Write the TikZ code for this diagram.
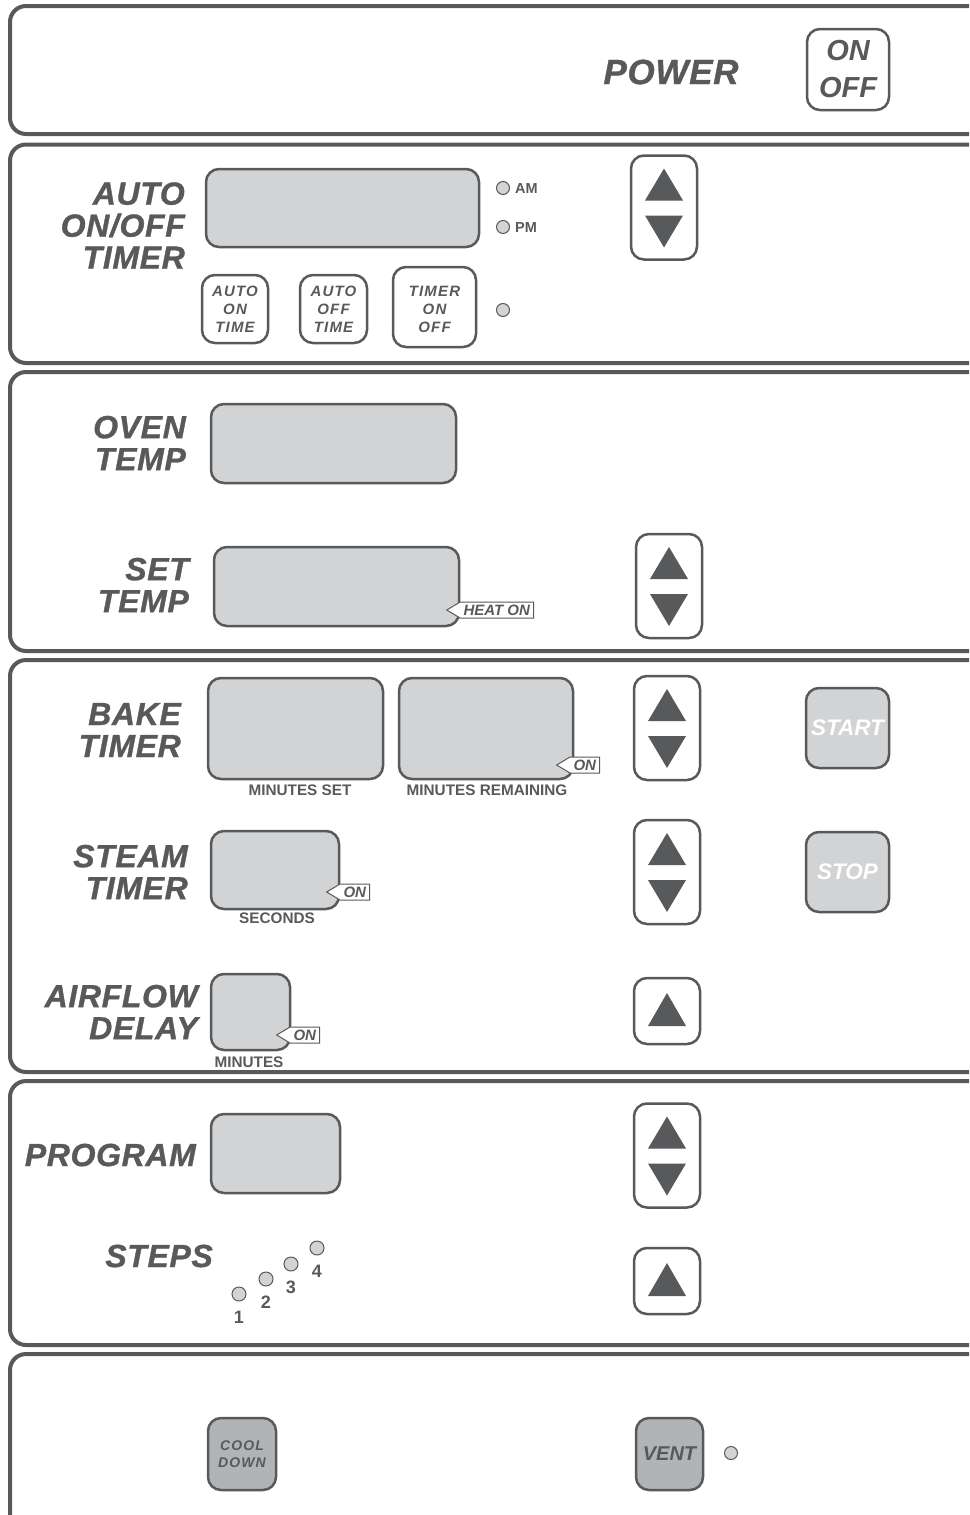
\documentclass[tikz,border=0pt]{standalone}
\usepackage{fontspec}
\setmainfont{Liberation Sans}
\newfontfamily\labfont[LetterSpace=2, BoldItalicFeatures={FakeBold=1}]{Liberation Sans}
\newfontfamily\keyfont[LetterSpace=8]{Liberation Sans}
\usetikzlibrary{shapes.symbols, positioning}

\definecolor{dgray}{HTML}{58595B}
\definecolor{lcdgray}{HTML}{D1D3D4}
\definecolor{keygray}{HTML}{B1B3B6}

\tikzset{
    panel/.style={draw=dgray, line width=4pt, rounded corners=16pt},
    lcd/.style={draw=dgray, fill=lcdgray, line width=2.5pt, rounded corners=13pt, inner sep=0},
    key/.style={draw=dgray, fill=white, line width=2.5pt, rounded corners=13pt, inner sep=0, text=dgray, align=center},
    keytext/.style={text=dgray, align=center, inner sep=0, font=\keyfont\bfseries\itshape\fontsize{15}{18}\selectfont},
    panellabel/.style={font=\labfont\bfseries\itshape\fontsize{32}{32}\selectfont, text=dgray, align=right, anchor=east, inner sep=0},
    smalltag/.style={font=\bfseries\fontsize{15.3}{16}\selectfont, text=dgray, inner sep=0},
    led/.style={circle, draw=dgray, fill=lcdgray, line width=1pt, minimum size=13, inner sep=0},
    flag/.style={signal, signal to=west, signal pointer angle=62, draw=dgray, fill=white, line width=1pt,
        minimum height=16, inner xsep=3.5, inner ysep=0, text=dgray, font=\bfseries\itshape\fontsize{15}{15}\selectfont}
}

% up/down key: name, x, y
\newcommand{\updown}[3]{%
    \node[key, minimum width=66, minimum height=104] (#1) at (#2,#3) {};
    \fill[dgray] ([shift={(0,-39)}]#1.center) -- ([shift={(19,-7)}]#1.center) -- ([shift={(-19,-7)}]#1.center) -- cycle;
    \fill[dgray] ([shift={(0,40)}]#1.center) -- ([shift={(19,8)}]#1.center) -- ([shift={(-19,8)}]#1.center) -- cycle;
}
% up key: name, x, y
\newcommand{\upkey}[3]{%
    \node[key, minimum width=66, minimum height=66] (#1) at (#2,#3) {};
    \fill[dgray] ([shift={(0,-18)}]#1.center) -- ([shift={(19,15)}]#1.center) -- ([shift={(-19,15)}]#1.center) -- cycle;
}

\begin{document}
\begin{tikzpicture}[x=1pt, y=-1pt]
    \useasboundingbox (0,0) rectangle (969,1515);
    \clip (0,0) rectangle (969,1515);

    % panels
    \draw[panel] (10,6) rectangle (1000,134);
    \draw[panel] (10,144.5) rectangle (1000,363);
    \draw[panel] (10,372) rectangle (1000,651);
    \draw[panel] (10,660) rectangle (1000,1072);
    \draw[panel] (10,1081) rectangle (1000,1345);
    \draw[panel] (10,1354) rectangle (1000,1560);

    % power
    \node[panellabel, anchor=center, font=\labfont\bfseries\itshape\fontsize{35}{35}\selectfont] (power) at (671,72) {POWER};
    \node[key, minimum width=82, minimum height=81, font=\bfseries\itshape\fontsize{29}{37}\selectfont] (onoff) at (848,69.5) {ON\\OFF};

    % auto on/off timer
    \node[panellabel] (autolab) at (185,225.5) {AUTO\\ON/OFF\\TIMER};
    \node[lcd, minimum width=273, minimum height=78] (clock) at (342.5,208) {};
    \node[led] (am) at (503,188) {};
    \node[led] (pm) at (503,227) {};
    \node[smalltag, anchor=west, font=\bfseries\fontsize{14.5}{15}\selectfont] (amlab) at (515,188.5) {AM};
    \node[smalltag, anchor=west, font=\bfseries\fontsize{14.5}{15}\selectfont] (pmlab) at (515,227.5) {PM};
    \node[key, minimum width=66, minimum height=68] (autoon) at (235,309) {};
    \node[key, minimum width=67, minimum height=68] (autooff) at (333.5,309) {};
    \node[key, minimum width=83, minimum height=80] (timeronoff) at (434.5,307) {};
    \node[keytext] (autoontext) at (autoon.center) {AUTO\\ON\\TIME};
    \node[keytext] (autoofftext) at (autooff.center) {AUTO\\OFF\\TIME};
    \node[keytext] (timertext) at ([shift={(0,2)}]timeronoff.center) {TIMER\\ON\\OFF};
    \node[led] (timerled) at (503,310) {};
    \updown{udclock}{664}{207.5}

    % oven temp / set temp
    \node[panellabel] (ovenlab) at (186,443) {OVEN\\TEMP};
    \node[lcd, minimum width=245, minimum height=79] (oven) at (333.5,443.5) {};
    \node[panellabel] (setlab) at (189,585) {SET\\TEMP};
    \node[lcd, minimum width=245, minimum height=79] (settemp) at (336.5,586.5) {};
    \node[flag, anchor=east] (heaton) at (534,610) {HEAT ON};
    \updown{udset}{669}{586}

    % bake timer
    \node[panellabel] (bakelab) at (181,730) {BAKE\\TIMER};
    \node[lcd, minimum width=175, minimum height=101] (minset) at (295.5,728.5) {};
    \node[lcd, minimum width=174, minimum height=101] (minrem) at (486,728.5) {};
    \node[flag, anchor=east] (bakeon) at (600,765) {ON};
    \node[smalltag] (minsetlab) at (300,790) {MINUTES SET};
    \node[smalltag] (minremlab) at (487,790) {MINUTES REMAINING};
    \updown{udbake}{667}{728}
    \node[key, fill=lcdgray, text=white, minimum width=83, minimum height=80, font=\bfseries\itshape\fontsize{22.5}{22}\selectfont] (start) at (847.5,728) {START};

    % steam timer
    \node[panellabel] (steamlab) at (188,872) {STEAM\\TIMER};
    \node[lcd, minimum width=128, minimum height=78] (seconds) at (275,870) {};
    \node[flag, anchor=east] (steamon) at (370,892) {ON};
    \node[smalltag] (secondslab) at (277,918) {SECONDS};
    \updown{udsteam}{667}{872}
    \node[key, fill=lcdgray, text=white, minimum width=83, minimum height=80, font=\bfseries\itshape\fontsize{22.5}{22}\selectfont] (stop) at (847.5,872) {STOP};

    % airflow delay
    \node[panellabel] (airlab) at (198,1012) {AIRFLOW\\DELAY};
    \node[lcd, minimum width=79, minimum height=76] (airmin) at (250.5,1012) {};
    \node[flag, anchor=east] (airon) at (320,1035) {ON};
    \node[smalltag] (airminlab) at (249,1062) {MINUTES};
    \upkey{upair}{667}{1011}

    % program / steps
    \node[panellabel] (proglab) at (196,1155) {PROGRAM};
    \node[lcd, minimum width=129, minimum height=79] (prog) at (275.5,1153.5) {};
    \updown{udprog}{667}{1155.5}
    \node[panellabel] (stepslab) at (213,1256) {STEPS};
    \foreach \n/\x/\y in {1/239/1294, 2/266/1279, 3/291/1264, 4/317/1248} {
        \node[led, minimum size=14] (step\n) at (\x,\y) {};
        \node[text=dgray, font=\bfseries\fontsize{18}{18}\selectfont, below=9pt of step\n, inner sep=0] (steplab\n) {\n};
    }
    \upkey{upsteps}{667}{1281}

    % cool down / vent
    \node[key, fill=keygray, minimum width=68, minimum height=72, font=\keyfont\bfseries\itshape\fontsize{14}{17}\selectfont] (cool) at (242,1454) {COOL\\DOWN};
    \node[key, fill=keygray, minimum width=67, minimum height=72, font=\bfseries\itshape\fontsize{20}{20}\selectfont] (vent) at (669.5,1454) {VENT};
    \node[led] (ventled) at (731,1453) {};
\end{tikzpicture}
\end{document}
